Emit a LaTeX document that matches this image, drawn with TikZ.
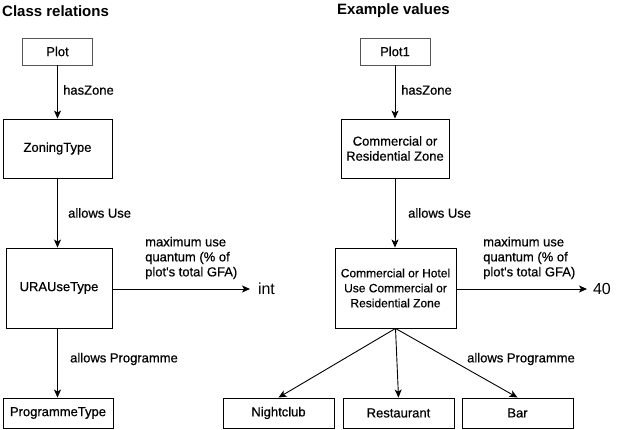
\documentclass[tikz,border=0pt]{standalone}
\usepackage{fontspec}
\setmainfont{Liberation Sans}
\newfontfamily\medfont{Liberation Sans}[FakeBold=0.6]
\usetikzlibrary{arrows.meta}
\definecolor{plotgray}{HTML}{555555}
\begin{document}
\begin{tikzpicture}[x=1pt,y=-1pt,
  box/.style={draw, line width=0.9pt, inner sep=0pt, align=center, font=\medfont\fontsize{13}{15}\selectfont},
  lbl/.style={anchor=west, inner sep=0pt, align=left, font=\medfont\fontsize{13}{15}\selectfont},
  ttl/.style={anchor=west, inner sep=0pt, font=\bfseries\fontsize{15}{18}\selectfont},
  arr/.style={line width=0.9pt, -{Stealth[length=8pt,width=7pt,inset=2pt]}}]
\useasboundingbox (0,0) rectangle (620,430);
\node[ttl] (t1) at (2,11) {Class relations};
\node[ttl] (t2) at (337,11) {Example values};
% left column
\node[box, draw=plotgray, minimum width=70pt, minimum height=27pt] (plot) at (57.5,51.5) {Plot};
\node[box, minimum width=109pt, minimum height=59pt] (zoning) at (57.5,148.5) {ZoningType};
\node[box, minimum width=106pt, minimum height=80pt] (ura) at (59,288) {URAUseType};
\node[box, minimum width=110pt, minimum height=30pt] (prog) at (58,413) {ProgrammeType};
\node[anchor=west, inner sep=0pt, outer sep=0pt, font=\fontsize{16}{18}\selectfont] (int) at (258,289) {int};
\coordinate (intend) at (250,289);
% right column
\node[box, draw=plotgray, minimum width=70pt, minimum height=27pt] (plot1) at (395,51.5) {Plot1};
\node[box, minimum width=108pt, minimum height=59pt] (crz) at (395,148.5) {Commercial or\\Residential Zone};
\node[box, minimum width=121pt, minimum height=80pt, font=\medfont\fontsize{12}{15}\selectfont] (chu) at (395.5,288) {Commercial or Hotel\\Use Commercial or\\Residential Zone};
\node[box, minimum width=111pt, minimum height=30pt] (nc) at (278.5,413) {Nightclub};
\node[box, minimum width=111pt, minimum height=30pt] (rest) at (398.5,413) {Restaurant};
\node[box, minimum width=111pt, minimum height=30pt] (bar) at (517.5,413) {Bar};
\node[anchor=west, inner sep=0pt, outer sep=0pt, font=\fontsize{16}{18}\selectfont] (forty) at (593,289) {40};
\coordinate (fortyend) at (587,289);
% connectors left
\draw[arr] (plot.south) -- (zoning.north);
\draw[arr] (zoning.south) -- (zoning.south |- ura.north);
\draw[arr] (ura.south -| zoning.south) -- (prog.north -| zoning.south);
\draw[arr] (ura.east |- intend) -- (intend);
% connectors right
\draw[arr] (plot1.south) -- (crz.north);
\draw[arr] (crz.south) -- (crz.south |- chu.north);
\draw[arr] (chu.east |- fortyend) -- (fortyend);
\draw[arr] (chu.south) -- (nc.north);
\draw[arr] (chu.south) -- (rest.north);
\draw[arr] (chu.south) -- (bar.north);
% labels
\node[lbl] (l1) at (63,90) {hasZone};
\node[lbl] (l2) at (68,213) {allows Use};
\node[lbl] (l3) at (70,359) {allows Programme};
\node[lbl] (l4) at (145,258) {maximum use\\quantum (\% of\\plot's total GFA)};
\node[lbl] (r1) at (401,90) {hasZone};
\node[lbl] (r2) at (408,213) {allows Use};
\node[lbl] (r3) at (467,359) {allows Programme};
\node[lbl] (r4) at (483,258) {maximum use\\quantum (\% of\\plot's total GFA)};
\end{tikzpicture}
\end{document}
